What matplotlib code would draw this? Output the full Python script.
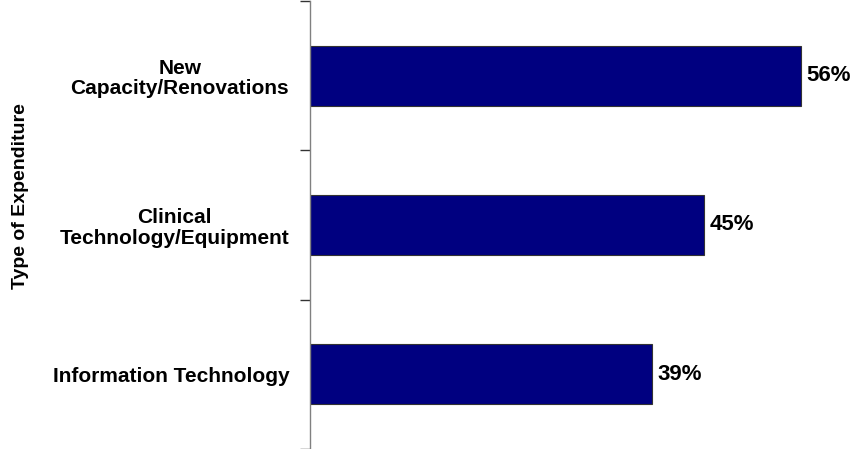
import matplotlib
matplotlib.use("Agg")
import matplotlib.pyplot as plt

categorias = ["New\nCapacity/Renovations", "Clinical\nTechnology/Equipment", "Information Technology"]
porcentajes = [56, 45, 39]
etiquetas = ["56%", "45%", "39%"]

plt.rcParams["font.family"] = ["Liberation Sans", "DejaVu Sans"]
plt.rcParams["font.weight"] = "bold"

fig = plt.figure(figsize=(8.57, 4.49), dpi=100)
ax = fig.add_axes([310 / 857, 0.0, 547 / 857, 448 / 449])

pos = list(range(len(categorias)))
ax.barh(pos, porcentajes, height=0.40, color="#000080",
        edgecolor="#333333", linewidth=0.8)

for p, v, t in zip(pos, porcentajes, etiquetas):
    ax.text(v + 0.6, p, t, va="center", ha="left",
            fontsize=16, fontweight="bold", color="black")

ax.set_xlim(0, 62.4)
ax.set_ylim(2.5, -0.5)

ax.set_yticks(pos)
ax.set_yticklabels(categorias, fontsize=15, fontweight="bold",
                   multialignment="center", linespacing=1.1)
ax.tick_params(axis="y", which="major", length=0, pad=15)
ax.set_yticks([-0.5, 0.5, 1.5, 2.5], minor=True)
ax.tick_params(axis="y", which="minor", length=7, width=1, color="#333333")
ax.set_xticks([])

for s in ["top", "right", "bottom"]:
    ax.spines[s].set_visible(False)
ax.spines["left"].set_color("#808080")
ax.spines["left"].set_linewidth(1)

fig.text(21 / 857, 1 - 196 / 449, "Type of Expenditure", rotation=90,
         ha="center", va="center", fontsize=14, fontweight="bold")

fig.savefig("out.png", dpi=100)
